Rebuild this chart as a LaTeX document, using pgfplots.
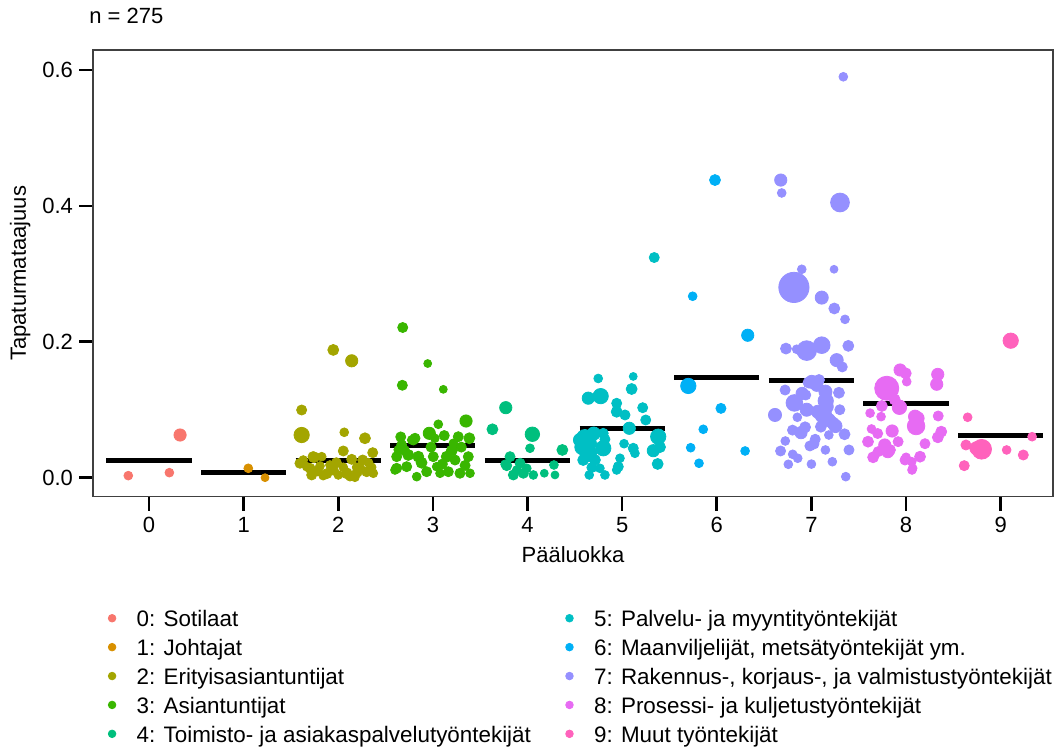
\documentclass[border=0pt]{standalone}
\usepackage{fontspec}
\setmainfont{Liberation Sans}
\usepackage{pgfplots}
\usepackage{pgfplotstable}
\pgfplotsset{compat=1.18}

\definecolor{c0}{HTML}{F8766D}
\definecolor{c1}{HTML}{D89000}
\definecolor{c2}{HTML}{A3A500}
\definecolor{c3}{HTML}{39B600}
\definecolor{c4}{HTML}{00BF7D}
\definecolor{c5}{HTML}{00BFC4}
\definecolor{c6}{HTML}{00B0F6}
\definecolor{c7}{HTML}{9590FF}
\definecolor{c8}{HTML}{E76BF3}
\definecolor{c9}{HTML}{FF62BC}

\newcommand{\fs}{\fontsize{11bp}{13.2bp}\selectfont}
\newcommand{\fl}{\fontsize{11.2bp}{13.5bp}\selectfont}
\newcommand{\lt}[1]{\makebox[214.3bp][l]{#1}}

% jittered position x, accident frequency y, marker radius s (bp)
\pgfplotstableread{
x y s
-0.219 0.003 2.0
0.215 0.0074 2.0
0.328 0.0628 2.8
}\tZero
\pgfplotstableread{
x y s
1.049 0.0138 2.0
1.226 0.0000 1.8
}\tOne
\pgfplotstableread{
x y s
1.947 0.188 2.5
2.142 0.172 2.8
1.613 0.0996 2.3
1.613 0.0628 3.5
2.063 0.0668 2.0
2.282 0.058 2.5
2.364 0.0368 2.3
2.053 0.0393 2.3
1.743 0.030 2.5
1.595 0.0212 2.3
1.701 0.0138 2.3
1.719 0.004 2.3
1.841 0.003 2.0
1.947 0.0113 2.3
2.000 0.004 2.0
2.089 0.0065 2.5
2.176 0.0006 2.0
2.194 0.0153 2.0
2.258 0.026 2.3
2.300 0.0088 2.3
2.353 0.0153 2.0
2.370 0.0065 2.0
2.142 0.027 2.3
2.053 0.0153 2.0
1.630 0.026 2.0
1.807 0.0172 2.0
1.912 0.0187 2.0
1.825 0.0309 2.0
1.666 0.0162 2.0
2.229 0.0162 2.0
2.124 0.0015 2.0
1.733 0.0309 2.3
1.780 0.0100 2.3
1.980 0.0220 2.3
2.200 0.0080 2.3
2.320 0.0220 2.0
1.880 0.0060 2.3
}\tTwo
\pgfplotstableread{
x y s
2.681 0.221 2.3
2.945 0.168 1.8
2.677 0.136 2.3
3.110 0.130 1.8
3.350 0.0834 2.8
3.057 0.0786 2.0
2.962 0.0653 2.8
3.385 0.058 2.5
3.268 0.0603 2.3
2.811 0.058 2.3
2.670 0.048 2.3
2.740 0.0334 2.5
2.617 0.0309 2.3
2.599 0.0113 2.0
2.723 0.0162 2.3
2.846 0.0309 2.5
2.934 0.0088 2.3
3.004 0.0309 2.3
3.040 0.0162 2.0
3.146 0.0309 2.5
3.163 0.0088 2.3
3.234 0.026 2.3
3.286 0.0065 2.3
3.374 0.0309 2.3
3.392 0.0065 2.0
3.075 0.0065 2.0
2.829 0.0015 2.0
2.634 0.041 2.0
2.776 0.0555 2.0
3.216 0.0506 2.0
2.793 0.0555 2.3
2.617 0.0138 2.3
2.700 0.0400 2.3
2.880 0.0220 2.5
2.980 0.0450 2.3
3.100 0.0200 2.3
3.200 0.0400 2.5
3.300 0.0450 2.3
3.340 0.0180 2.3
2.660 0.0600 2.3
3.020 0.0580 2.0
3.120 0.0620 2.3
}\tThree
\pgfplotstableread{
x y s
3.770 0.103 2.8
3.629 0.0712 2.5
4.051 0.0639 3.3
4.026 0.0433 2.0
4.368 0.0408 2.5
3.815 0.0309 2.3
3.780 0.0177 2.3
3.921 0.0212 2.3
3.850 0.004 2.3
3.956 0.0065 2.3
4.061 0.004 2.0
4.177 0.0065 1.8
4.290 0.004 1.8
4.279 0.0187 2.0
3.992 0.0138 2.0
3.886 0.0113 2.0
3.763 0.0197 2.0
}\tFour
\pgfplotstableread{
x y s
5.339 0.324 2.3
4.747 0.146 2.0
5.117 0.149 1.8
5.100 0.1305 2.5
4.773 0.120 3.5
4.642 0.117 2.8
4.942 0.1095 2.3
5.217 0.103 2.3
4.942 0.097 2.5
5.030 0.0923 2.3
5.249 0.0849 2.3
5.075 0.0727 2.8
5.381 0.0603 3.5
4.607 0.058 4.0
4.800 0.0433 3.5
4.642 0.0359 3.8
4.800 0.0653 2.3
5.329 0.0397 2.8
5.117 0.0433 2.3
5.135 0.0359 2.0
4.977 0.0286 2.0
4.959 0.0162 2.3
4.942 0.0113 2.0
5.375 0.0202 2.5
4.652 0.004 2.0
4.765 0.0138 2.0
4.818 0.004 2.0
4.588 0.026 2.5
4.659 0.0506 3.0
4.818 0.0565 2.3
4.554 0.0555 3.0
4.712 0.026 2.5
4.580 0.0450 3.5
4.700 0.0650 3.0
4.680 0.0150 2.3
5.400 0.0450 2.5
5.020 0.0500 2.0
}\tFive
\pgfplotstableread{
x y s
5.981 0.438 2.5
5.745 0.267 2.0
6.327 0.2096 2.8
5.699 0.135 3.5
6.044 0.102 2.3
5.857 0.0712 2.0
5.724 0.0441 2.0
5.812 0.0212 2.0
6.299 0.0393 2.0
}\tSix
\pgfplotstableread{
x y s
7.337 0.590 2.0
6.676 0.438 2.8
6.686 0.419 2.0
7.302 0.405 4.3
6.898 0.3067 2.0
7.239 0.3067 1.8
6.815 0.280 6.9
7.109 0.265 3.0
7.242 0.249 2.5
7.355 0.233 2.0
6.731 0.190 2.5
6.950 0.187 4.5
7.109 0.195 3.8
7.390 0.194 2.5
6.844 0.189 2.0
7.267 0.173 3.0
7.326 0.163 2.3
7.003 0.141 3.0
7.056 0.136 2.8
6.722 0.129 2.3
6.902 0.124 2.8
7.148 0.1266 3.0
7.291 0.125 2.5
6.940 0.1217 2.3
6.820 0.110 3.8
7.151 0.113 3.5
7.162 0.1045 3.0
6.615 0.0923 3.0
7.126 0.0923 3.8
6.851 0.0889 2.0
7.184 0.0849 3.0
7.254 0.076 3.0
6.933 0.0742 2.5
6.890 0.0662 2.8
7.184 0.0628 2.0
7.350 0.0639 2.5
6.724 0.054 2.0
7.040 0.0565 2.3
6.984 0.0467 2.3
6.674 0.0393 2.3
7.148 0.0408 2.0
7.397 0.0408 2.3
6.802 0.0344 2.0
6.855 0.0286 2.0
6.756 0.0197 2.0
7.221 0.0235 2.0
7.363 0.0015 2.0
6.969 0.140 2.5
7.080 0.1438 2.5
7.069 0.097 3.0
7.228 0.080 2.8
7.027 0.0496 2.3
6.950 0.1000 3.0
7.100 0.0750 2.5
6.800 0.0700 2.3
7.000 0.0200 2.0
7.300 0.1000 2.3
}\tSeven
\pgfplotstableread{
x y s
7.937 0.1585 2.8
7.997 0.1536 2.5
8.007 0.1413 2.0
7.796 0.1316 5.5
8.335 0.152 2.8
8.324 0.1375 2.8
7.744 0.1055 2.5
7.930 0.1036 3.3
8.095 0.0898 3.0
8.106 0.076 4.0
8.340 0.0908 2.3
7.635 0.0717 2.0
7.853 0.0687 2.8
8.372 0.0677 2.5
8.336 0.0594 2.5
7.598 0.053 2.5
7.775 0.0481 2.8
7.916 0.053 2.3
7.705 0.0383 2.3
7.652 0.030 2.5
7.989 0.026 2.3
8.070 0.0138 2.0
8.148 0.0309 2.5
8.060 0.0235 2.0
7.830 0.0408 2.5
8.122 0.0874 3.0
7.807 0.0383 2.8
8.063 0.0113 2.0
7.736 0.0898 2.0
7.700 0.0650 2.3
7.880 0.1150 2.5
8.200 0.0500 2.3
8.000 0.0300 2.0
7.620 0.0950 2.0
}\tEight
\pgfplotstableread{
x y s
9.106 0.2016 3.5
8.651 0.0889 2.0
8.633 0.0481 2.3
8.799 0.0418 4.5
9.063 0.0408 2.0
9.239 0.0334 2.3
8.615 0.0177 2.3
9.332 0.0603 2.0
8.743 0.0433 3.0
}\tNine

\pgfplotsset{
  pts/.style={only marks, mark=*, forget plot,
    scatter,
    scatter/use mapped color={draw=#1, fill=#1},
    visualization depends on={1.1*\thisrow{s}\as\ms},
    scatter/@pre marker code/.append style={/tikz/mark size=\ms}},
  meanline/.style={black, line width=2.5bp, forget plot, no marks},
}

\begin{document}
\begin{tikzpicture}
\begin{axis}[name=ax,
  scale only axis, width=480bp, height=223.35bp,
  xmin=-0.592, xmax=9.553, ymin=-0.028, ymax=0.6294,
  xtick={0,...,9}, ytick={0,0.2,0.4,0.6},
  /pgf/number format/assume math mode=true,
  tick align=outside, xtick pos=lower, ytick pos=left,
  major tick length=7bp,
  every tick/.style={black, line width=1.3bp},
  axis line style={draw=black!75, line width=0.75bp},
  tick label style={font=\fs},
  yticklabel style={anchor=east, inner sep=0pt, xshift=-2.85bp,
    /pgf/number format/fixed, /pgf/number format/fixed zerofill,
    /pgf/number format/precision=1},
  xticklabel style={anchor=north, inner sep=0pt, yshift=-3.15bp},
  xlabel={Pääluokka},
  xlabel style={at={(rel axis cs:0.5,-0.1462)}, anchor=base, inner sep=0pt, font=\fs},
  ylabel={Tapaturmataajuus},
  ylabel style={at={(rel axis cs:-0.0698,0.5)}, anchor=base, inner sep=0pt, font=\fs},
  title={n = 275},
  title style={at={(rel axis cs:0,1.0336)}, anchor=base west, inner sep=0pt, xshift=-2bp, font=\fs},
  legend columns=2,
  legend image code/.code={\fill[#1, overlay] (1.9bp,4.15bp) circle[radius=1.9bp]; \path (0bp,0bp) (14bp,0bp);},
  legend style={at={(rel axis cs:0.01552,-0.2526)}, anchor=north west,
    draw=none, fill=none, inner sep=0pt, outer sep=0pt, font=\fl,
    row sep=3.45bp, column sep=0pt,
    nodes={inner sep=0pt, text height=8.5bp, text depth=2.5bp},
    cells={anchor=base west}},
]
\addplot[pts=c0] table {\tZero};
\addplot[pts=c1] table {\tOne};
\addplot[pts=c2] table {\tTwo};
\addplot[pts=c3] table {\tThree};
\addplot[pts=c4] table {\tFour};
\addplot[pts=c5] table {\tFive};
\addplot[pts=c6] table {\tSix};
\addplot[pts=c7] table {\tSeven};
\addplot[pts=c8] table {\tEight};
\addplot[pts=c9] table {\tNine};

% group means
\addplot[meanline] coordinates {(-0.45,0.0246) (0.45,0.0246)};
\addplot[meanline] coordinates {(0.55,0.0074) (1.45,0.0074)};
\addplot[meanline] coordinates {(1.55,0.0260) (2.45,0.0260)};
\addplot[meanline] coordinates {(2.55,0.0467) (3.45,0.0467)};
\addplot[meanline] coordinates {(3.55,0.0246) (4.45,0.0246)};
\addplot[meanline] coordinates {(4.55,0.0727) (5.45,0.0727)};
\addplot[meanline] coordinates {(5.55,0.1478) (6.45,0.1478)};
\addplot[meanline] coordinates {(6.55,0.1428) (7.45,0.1428)};
\addplot[meanline] coordinates {(7.55,0.1085) (8.45,0.1085)};
\addplot[meanline] coordinates {(8.55,0.0618) (9.45,0.0618)};

\addlegendimage{c0}\addlegendentry{\lt{0: Sotilaat}}
\addlegendimage{c5}\addlegendentry{5: Palvelu- ja myyntityöntekijät}
\addlegendimage{c1}\addlegendentry{\lt{1: Johtajat}}
\addlegendimage{c6}\addlegendentry{6: Maanviljelijät, metsätyöntekijät ym.}
\addlegendimage{c2}\addlegendentry{\lt{2: Erityisasiantuntijat}}
\addlegendimage{c7}\addlegendentry{7: Rakennus-, korjaus-, ja valmistustyöntekijät}
\addlegendimage{c3}\addlegendentry{\lt{3: Asiantuntijat}}
\addlegendimage{c8}\addlegendentry{8: Prosessi- ja kuljetustyöntekijät}
\addlegendimage{c4}\addlegendentry{\lt{4: Toimisto- ja asiakaspalvelutyöntekijät}}
\addlegendimage{c9}\addlegendentry{9: Muut työntekijät}
\end{axis}
\pgfresetboundingbox
\path[use as bounding box] ([shift={(-46.5bp,-128.15bp)}]ax.south west) rectangle ([shift={(483.5bp,248.35bp)}]ax.south west);
\end{tikzpicture}
\end{document}
